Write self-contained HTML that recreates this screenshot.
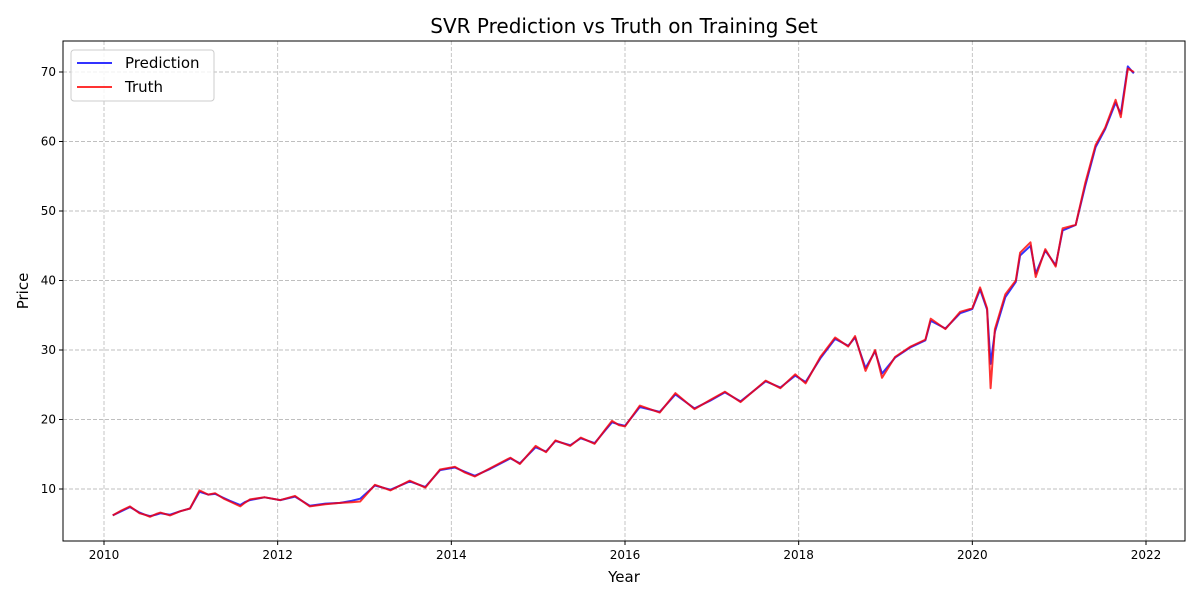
<!DOCTYPE html>
<html><head><meta charset="utf-8"><style>
body{margin:0;background:#fff;}
svg{display:block;font-family:"DejaVu Sans","Liberation Sans",sans-serif;}
</style></head><body>
<svg id="chart" width="1200" height="600"></svg>
<script>
const years=[2010.1,2010.2,2010.3,2010.41,2010.47,2010.53,2010.6,2010.65,2010.76,2010.88,2010.99,2011.1,2011.2,2011.28,2011.38,2011.45,2011.57,2011.62,2011.68,2011.85,2012.03,2012.2,2012.37,2012.55,2012.72,2012.85,2012.95,2013.12,2013.3,2013.52,2013.7,2013.87,2014.04,2014.15,2014.27,2014.45,2014.68,2014.79,2014.97,2015.09,2015.2,2015.37,2015.49,2015.65,2015.77,2015.85,2015.93,2016.0,2016.17,2016.4,2016.58,2016.8,2016.98,2017.15,2017.33,2017.62,2017.79,2017.96,2018.08,2018.25,2018.42,2018.57,2018.65,2018.77,2018.88,2018.96,2019.11,2019.29,2019.46,2019.52,2019.69,2019.86,2020.0,2020.09,2020.17,2020.21,2020.26,2020.38,2020.5,2020.55,2020.67,2020.73,2020.84,2020.96,2021.04,2021.19,2021.3,2021.42,2021.53,2021.65,2021.71,2021.79,2021.86];
const truth=[6.2,6.9,7.5,6.5,6.3,6.0,6.4,6.6,6.2,6.8,7.2,9.8,9.2,9.4,8.6,8.2,7.5,8.0,8.5,8.8,8.4,9.0,7.5,7.8,8.0,8.1,8.2,10.6,9.8,11.2,10.2,12.8,13.2,12.4,11.8,13.0,14.5,13.6,16.2,15.3,17.0,16.2,17.4,16.5,18.5,19.8,19.2,19.0,22.0,21.0,23.8,21.5,22.8,24.0,22.5,25.6,24.5,26.5,25.2,29.0,31.8,30.5,32.0,27.0,30.0,26.0,29.0,30.5,31.5,34.5,33.0,35.5,36.0,39.0,36.0,24.5,33.0,38.0,40.0,44.0,45.5,40.5,44.5,42.0,47.5,48.0,54.0,59.5,62.0,66.0,63.5,70.5,70.0];
const prediction=[6.2,6.8,7.4,6.6,6.3,6.1,6.3,6.5,6.3,6.8,7.2,9.6,9.2,9.3,8.7,8.3,7.7,8.1,8.4,8.8,8.4,8.9,7.6,7.9,8.0,8.3,8.6,10.5,9.9,11.1,10.3,12.7,13.1,12.5,11.9,12.9,14.4,13.7,16.0,15.4,16.9,16.3,17.3,16.6,18.4,19.6,19.3,19.1,21.8,21.1,23.6,21.6,22.7,23.9,22.6,25.5,24.6,26.3,25.4,28.8,31.6,30.6,31.8,27.4,29.8,26.6,28.9,30.4,31.4,34.2,33.1,35.3,35.9,38.7,35.8,28.0,32.6,37.6,39.8,43.6,45.0,41.0,44.3,42.2,47.2,48.0,53.6,59.2,61.8,65.6,64.0,70.8,69.8];
const xTicks=[2010,2012,2014,2016,2018,2020,2022];
const yTicks=[10,20,30,40,50,60,70];
const L=63,R=1185,T=41,B=541;
const X=v=>104+(v-2010)*(1146-104)/12;
const Y=v=>489-(v-10)*(489-72)/60;
const s=document.getElementById('chart');const NS='http://www.w3.org/2000/svg';
function mk(t,a,p){const e=document.createElementNS(NS,t);for(const k in a)e.setAttribute(k,a[k]);(p||s).appendChild(e);return e;}
const grid=mk('g',{});


xTicks.forEach(t=>{const x=X(t);
mk('line',{x1:x,x2:x,y1:T,y2:B,stroke:'#b0b0b0','stroke-dasharray':'4,2','stroke-width':0.9,opacity:0.8},grid);
mk('line',{x1:x,x2:x,y1:B,y2:B+4,stroke:'#000'});
const tx=mk('text',{x:x,y:B+18,'text-anchor':'middle','font-size':12});tx.textContent=t;

});
yTicks.forEach(t=>{const y=Y(t);
mk('line',{x1:L,x2:R,y1:y,y2:y,stroke:'#b0b0b0','stroke-dasharray':'4,2','stroke-width':0.9,opacity:0.8},grid);
mk('line',{x1:L-4,x2:L,y1:y,y2:y,stroke:'#000'});
const tx=mk('text',{x:L-7,y:y+4,'text-anchor':'end','font-size':12});tx.textContent=t;

});
function line(arr,col,name){const d=years.map((yr,i)=>(i?'L':'M')+X(yr).toFixed(1)+','+Y(arr[i]).toFixed(1)).join('');
const p=mk('path',{d:d,fill:'none',stroke:col,'stroke-width':2,opacity:0.8,'stroke-linejoin':'round'});

}
line(prediction,'#0000ff','prediction-line');
line(truth,'#ff0000','truth-line');
const fr=mk('rect',{x:L,y:T,width:R-L,height:B-T,fill:'none',stroke:'#000','stroke-width':1});


const ti=mk('text',{x:(L+R)/2,y:33,'text-anchor':'middle','font-size':20});ti.textContent='SVR Prediction vs Truth on Training Set';


const xl=mk('text',{x:(L+R)/2,y:582,'text-anchor':'middle','font-size':15});xl.textContent='Year';


const yl=mk('text',{x:28,y:291,'text-anchor':'middle','font-size':15,transform:'rotate(-90 28 291)'});yl.textContent='Price';


const lg=mk('g',{});


mk('rect',{x:71,y:50,width:143,height:51,rx:3,fill:'#fff','fill-opacity':0.8,stroke:'#ccc'},lg);
[['Prediction','#0000ff',63],['Truth','#ff0000',87]].forEach(([n,c,y])=>{
mk('line',{x1:77,x2:112,y1:y,y2:y,stroke:c,'stroke-width':2,opacity:0.8},lg);
const t=mk('text',{x:125,y:y+5,'font-size':15},lg);t.textContent=n;

});
</script>
</body></html>
